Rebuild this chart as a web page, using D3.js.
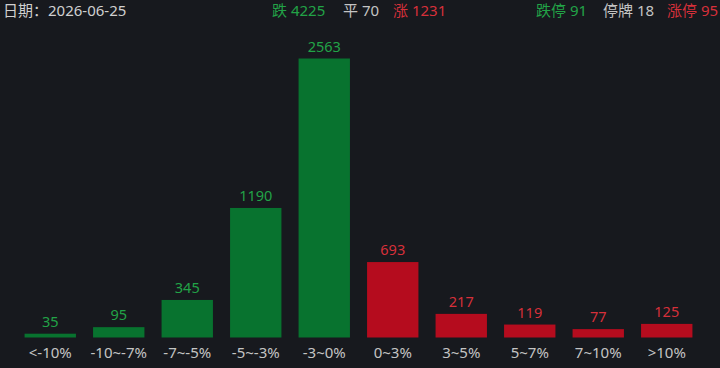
<!DOCTYPE html>
<html>
<head>
<meta charset="utf-8">
<script src="https://cdn.jsdelivr.net/npm/d3@7/dist/d3.min.js"></script>
<style>
  html, body { margin: 0; padding: 0; background: #17191e; }
  svg { display: block; font-family: "Noto Sans", "Noto Sans CJK SC", sans-serif; }
</style>
</head>
<body>
<svg id="chart" width="720" height="368"></svg>
<script>
// distribution of price changes
var categories = ["<-10%", "-10~-7%", "-7~-5%", "-5~-3%", "-3~0%", "0~3%", "3~5%", "5~7%", "7~10%", ">10%"];
var counts = [35, 95, 345, 1190, 2563, 693, 217, 119, 77, 125];
var sides = ["down", "down", "down", "down", "down", "up", "up", "up", "up", "up"];

var dateLabel = "日期：2026-06-25";
var summaryLeft = [
    { name: "跌", value: 4225, side: "down" },
    { name: "平", value: 70, side: "flat" },
    { name: "涨", value: 1231, side: "up" }
];
var summaryRight = [
    { name: "跌停", value: 91, side: "down" },
    { name: "停牌", value: 18, side: "flat" },
    { name: "涨停", value: 95, side: "up" }
];

var barColor = { down: "#08732f", up: "#b50c1e" };
var textColor = { down: "#22a347", up: "#d6303a", flat: "#c4c4c4" };

var W = 720, H = 368;
var baseY = 337.5, topY = 58.5;
var FONT = "\"Noto Sans\", \"Noto Sans CJK SC\", sans-serif";
var FS = 15;

var svg = d3.select("#chart");

var x = d3.scaleBand()
    .domain(categories)
    .range([16, 701])
    .paddingInner(0.25)
    .paddingOuter(0.125);

var y = d3.scaleLinear()
    .domain([0, d3.max(counts)])
    .range([baseY, topY]);

var rows = categories.map(function (c, i) {
    return { cat: c, n: counts[i], side: sides[i] };
});

svg.append("g")
    .selectAll("rect")
    .data(rows)
    .enter().append("rect")
    .attr("x", function (d) { return x(d.cat); })
    .attr("y", function (d) { return y(d.n); })
    .attr("width", x.bandwidth())
    .attr("height", function (d) { return baseY - y(d.n); })
    .attr("fill", function (d) { return barColor[d.side]; });

svg.append("g")
    .selectAll("text")
    .data(rows)
    .enter().append("text")
    .attr("x", function (d) { return x(d.cat) + x.bandwidth() / 2; })
    .attr("y", function (d) { return y(d.n) - 7; })
    .attr("text-anchor", "middle")
    .attr("font-size", 14.5)
    .attr("fill", function (d) { return textColor[d.side]; })
    .text(function (d) { return d.n; });

// category axis, no line / ticks
var axis = svg.append("g")
    .attr("transform", "translate(0," + baseY + ")")
    .call(d3.axisBottom(x).tickSize(0).tickPadding(10));
axis.select(".domain").remove();
axis.selectAll("text")
    .attr("font-size", FS)
    .attr("font-family", FONT)
    .attr("fill", "#c4c4c4");

// header
svg.append("text")
    .attr("x", 3)
    .attr("y", 16)
    .attr("font-size", FS)
    .attr("fill", "#d0d0d0")
    .text(dateLabel);

function header(items, xs) {
    var t = svg.append("g");
    items.forEach(function (d, i) {
        t.append("text")
            .attr("x", xs[i])
            .attr("y", 16)
            .attr("font-size", FS)
            .attr("fill", textColor[d.side])
            .text(d.name + " " + d.value);
    });
}
header(summaryLeft, [272, 343, 393]);
// last one pulled in a little so it isn't cut at the edge
header(summaryRight, [536, 603, 667]);
</script>
</body>
</html>
